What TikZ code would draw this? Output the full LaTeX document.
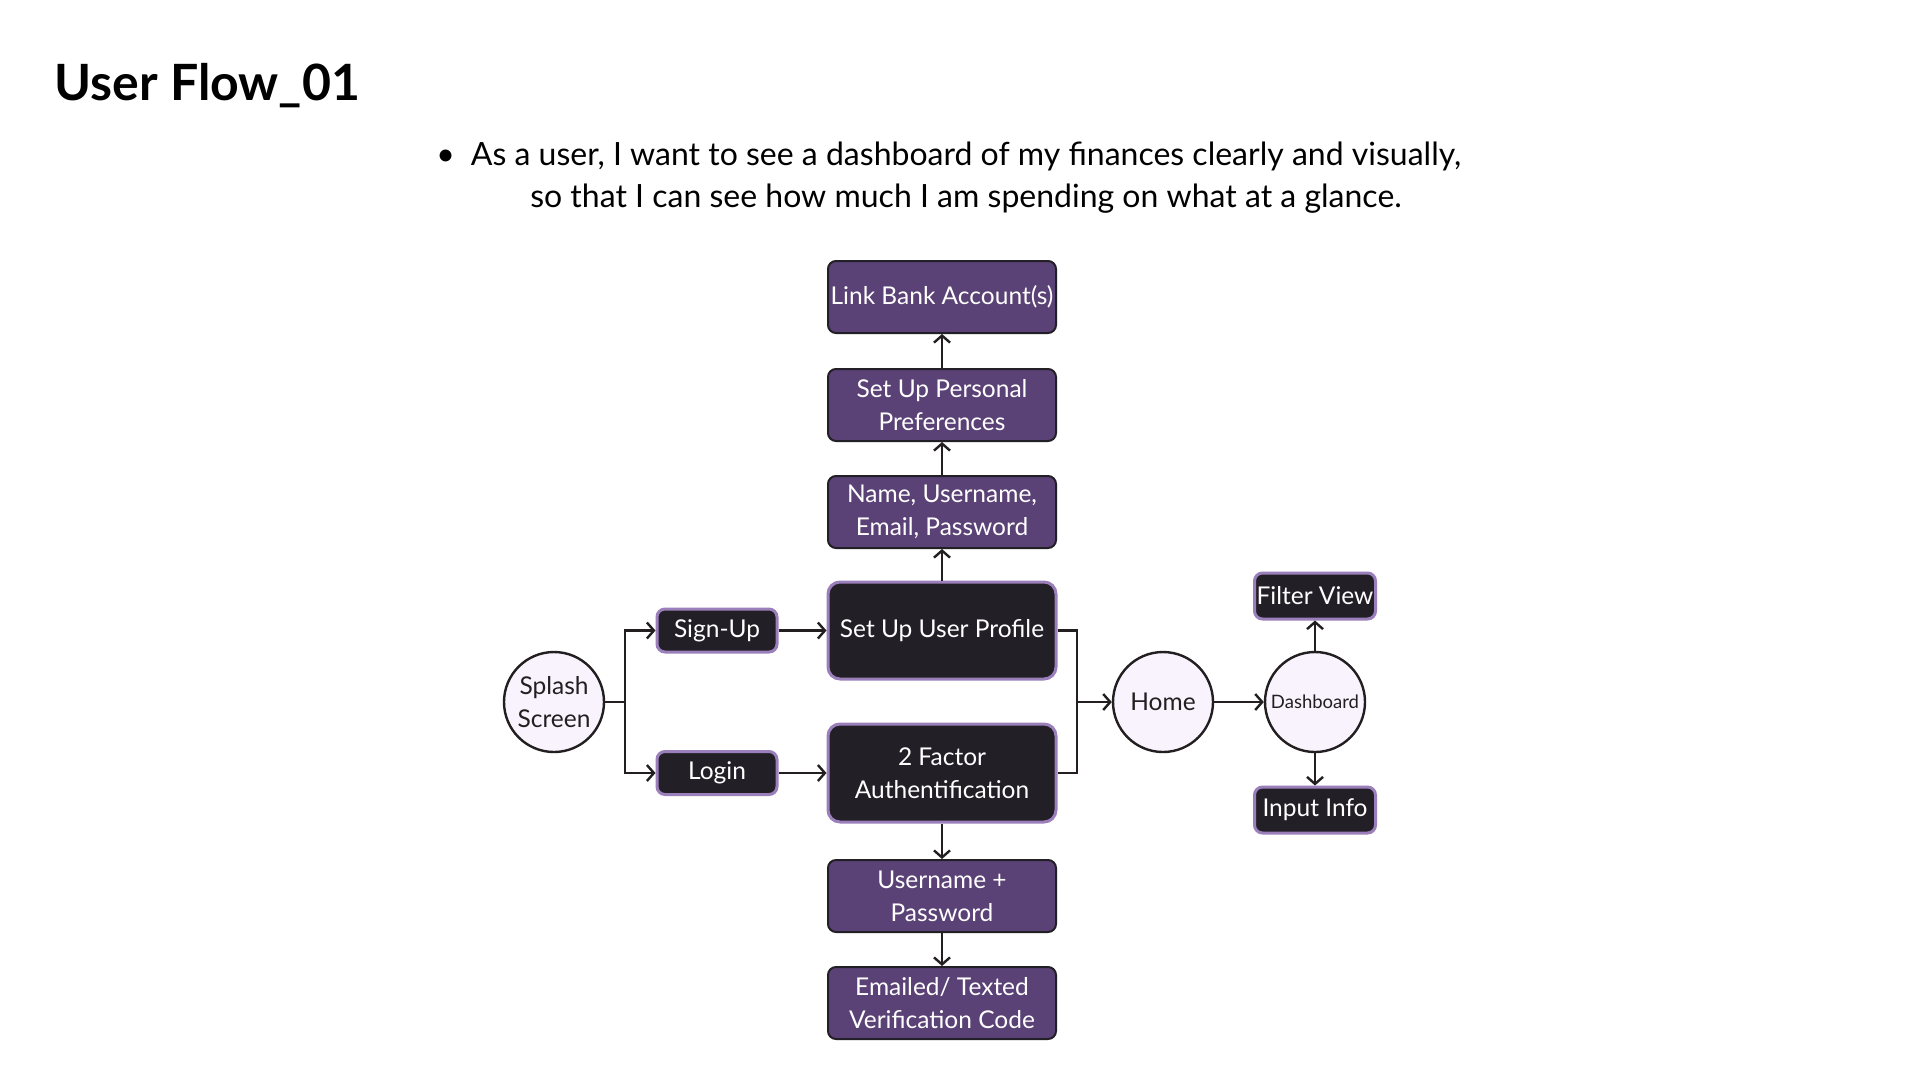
\documentclass[tikz,border=0pt]{standalone}
\usepackage{fontspec}
\setmainfont{Lato}
\usetikzlibrary{arrows.meta}
\definecolor{purp}{HTML}{5B4276}
\definecolor{dark}{HTML}{231F27}
\definecolor{lav}{HTML}{9B7FBA}
\definecolor{circ}{HTML}{F8F3FD}
\definecolor{ink}{HTML}{231F20}
\begin{document}
\begin{tikzpicture}[x=1pt,y=-1pt,
  pbox/.style={draw=dark, line width=2pt, fill=purp, rounded corners=8pt, text=white,
    minimum width=228pt, minimum height=72pt, align=center, inner sep=1pt,
    font=\fontsize{24.5}{33}\selectfont},
  dbox/.style={draw=lav, line width=3pt, fill=dark, rounded corners=12pt, text=white,
    align=center, inner sep=1pt, font=\fontsize{24.5}{33}\selectfont},
  sbox/.style={dbox, rounded corners=8pt, minimum width=120pt, minimum height=43pt},
  cnode/.style={circle, draw=ink, line width=2.4pt, fill=circ, minimum size=100pt,
    inner sep=0pt, align=center, text=ink, font=\fontsize{24.5}{33}\selectfont},
  conn/.style={draw=ink, line width=2.4pt, -{Straight Barb[length=7pt,width=16pt,line width=2.4pt]}},
  plain/.style={draw=ink, line width=2.4pt}
]
\useasboundingbox[fill=white] (0,0) rectangle (1921,1080);

\node[anchor=base west, font=\fontsize{50}{60}\selectfont\bfseries, text=black] (title) at (51,100) {User Flow\_01};
\node[align=center, font=\fontsize{32}{42}\selectfont, text=black] (story) at (966,178)
  {\makebox[0pt][r]{\textbullet\hspace{16pt}}As a user, I want to see a dashboard of my finances clearly and visually,\\
   so that I can see how much I am spending on what at a glance.};

\node[pbox] (link) at (942,297) {Link Bank Account(s)};
\node[pbox] (prefs) at (942,405) {Set Up Personal\\Preferences};
\node[pbox] (name) at (942,512) {Name, Username,\\Email, Password};
\node[dbox, minimum width=228pt, minimum height=97pt] (profile) at (942,630.5) {Set Up User Profile};
\node[dbox, minimum width=228pt, minimum height=98pt] (tfa) at (942,773) {2 Factor\\Authentification};
\node[pbox] (user) at (942,896) {Username +\\Password};
\node[pbox] (email) at (942,1003) {Emailed/ Texted\\Verification Code};

\node[sbox] (signup) at (717,630.5) {Sign-Up};
\node[sbox] (login) at (717,773) {Login};

\node[cnode] (splash) at (554,702) {Splash\\Screen};
\node[cnode] (home) at (1163,702) {Home};
\node[cnode, font=\fontsize{18.5}{22}\selectfont] (dash) at (1315,702) {Dashboard};

\node[sbox, minimum width=121pt, minimum height=46pt] (filter) at (1315,596) {Filter View};
\node[sbox, minimum width=121pt, minimum height=46pt] (input) at (1315,810) {Input Info};

\coordinate (sj) at (625,702);
\coordinate (hj) at (1077,702);

\draw[plain] (splash.east) -- (sj);
\draw[conn] (sj) |- (signup.west);
\draw[conn] (sj) |- (login.west);
\draw[conn] (signup.east) -- (profile.west);
\draw[conn] (login.east) -- (tfa.west);
\draw[conn] (profile.north) -- (name.south);
\draw[conn] (name.north) -- (prefs.south);
\draw[conn] (prefs.north) -- (link.south);
\draw[conn] (tfa.south) -- (user.north);
\draw[conn] (user.south) -- (email.north);
\draw[plain] (profile.east) -| (hj);
\draw[plain] (tfa.east) -| (hj);
\draw[conn] (hj) -- (home.west);
\draw[conn] (home.east) -- (dash.west);
\draw[conn] (dash.north) -- (filter.south);
\draw[conn] (dash.south) -- (input.north);
\end{tikzpicture}
\end{document}
